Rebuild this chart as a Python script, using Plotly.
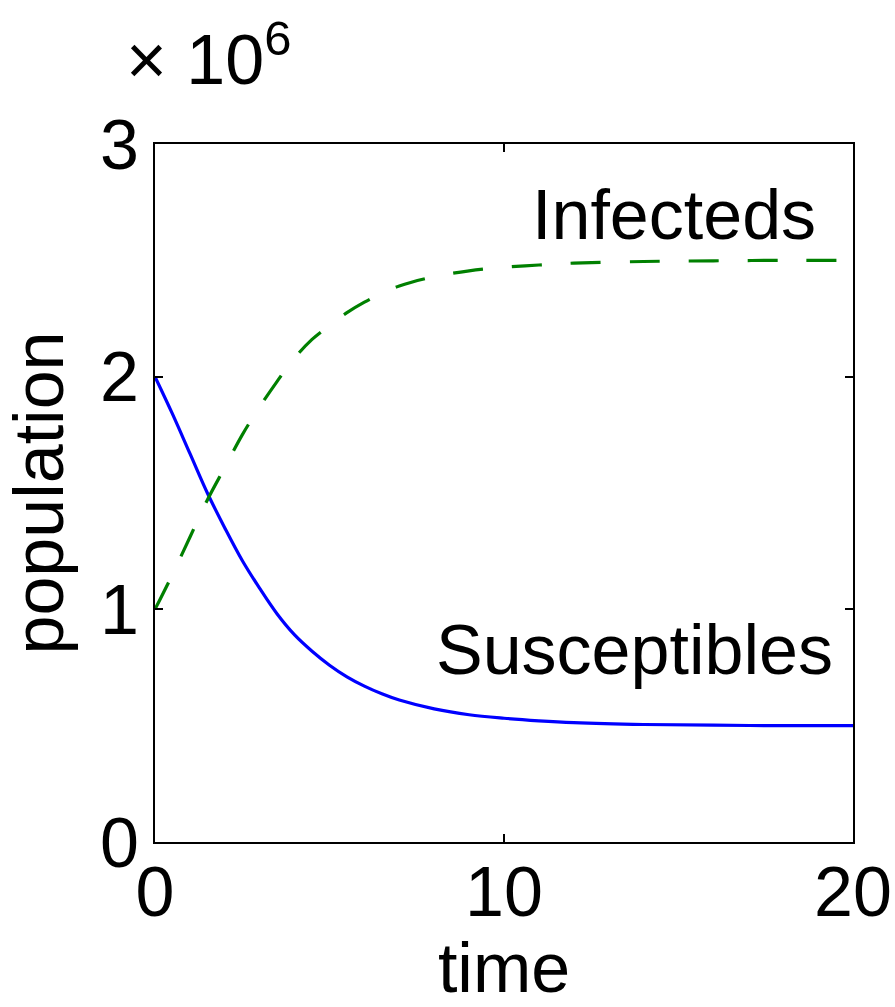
import plotly.graph_objects as go

# Time points (model time units)
time = [0, 0.5, 1, 1.5, 2, 2.5, 3, 3.5, 4, 4.5, 5, 5.5, 6, 6.5, 7, 8, 9, 10, 11, 12, 14, 16, 18, 20]

# Population sizes, in units of 10^6
susceptibles = [2.00, 1.84, 1.67, 1.50, 1.35, 1.21, 1.09, 0.98, 0.89, 0.82, 0.76,
                0.71, 0.67, 0.637, 0.61, 0.572, 0.547, 0.532, 0.521, 0.513, 0.505, 0.502, 0.50, 0.50]
infecteds = [1.00, 1.15, 1.31, 1.47, 1.61, 1.75, 1.87, 1.98, 2.08, 2.16, 2.22,
             2.275, 2.32, 2.358, 2.39, 2.43, 2.455, 2.47, 2.48, 2.488, 2.495, 2.498, 2.50, 2.50]

x_ticks = [0, 10, 20]
y_ticks = [0, 1, 2, 3]

FONT = "Liberation Sans, Arial, sans-serif"

fig = go.Figure()
fig.add_trace(go.Scatter(
    x=time, y=susceptibles, mode="lines",
    line=dict(color="#0000FF", width=3.2, shape="spline", smoothing=1.0),
    showlegend=False,
))
fig.add_trace(go.Scatter(
    x=time, y=infecteds, mode="lines",
    line=dict(color="#008000", width=3.2, shape="spline", smoothing=1.0, dash="30px,29px"),
    showlegend=False,
))

axis_common = dict(
    showline=True, linecolor="black", linewidth=2, mirror="ticks",
    ticks="inside", ticklen=8, tickwidth=1.5, tickcolor="black",
    showgrid=False, zeroline=False,
    tickfont=dict(family=FONT, size=70, color="black"),
)

fig.update_layout(
    width=895, height=1007,
    margin=dict(l=155, r=42, t=144, b=165, autoexpand=False),
    paper_bgcolor="white", plot_bgcolor="white",
    font=dict(family=FONT, size=70, color="black"),
    xaxis=dict(
        range=[0, 20], tickvals=x_ticks, ticklabelstandoff=-12,
        title=dict(text="time", font=dict(family=FONT, size=70), standoff=16),
        **axis_common,
    ),
    yaxis=dict(
        range=[0, 3], tickvals=y_ticks, ticklabelstandoff=0,
        title=dict(text="population", font=dict(family=FONT, size=70), standoff=22),
        **axis_common,
    ),
    annotations=[
        dict(text="Infecteds", x=10.74, y=2.694, xref="x", yref="y",
             xanchor="left", yanchor="middle", showarrow=False,
             font=dict(family=FONT, size=70, color="black")),
        dict(text="Susceptibles", x=7.98, y=0.825, xref="x", yref="y",
             xanchor="left", yanchor="middle", showarrow=False,
             font=dict(family=FONT, size=70, color="black")),
        dict(text="\u00d7 10<sup>6</sup>", x=-0.045, y=1.127, xref="paper", yref="paper",
             xanchor="left", yanchor="middle", showarrow=False,
             font=dict(family=FONT, size=70, color="black")),
    ],
)

fig.write_html("out.html")
